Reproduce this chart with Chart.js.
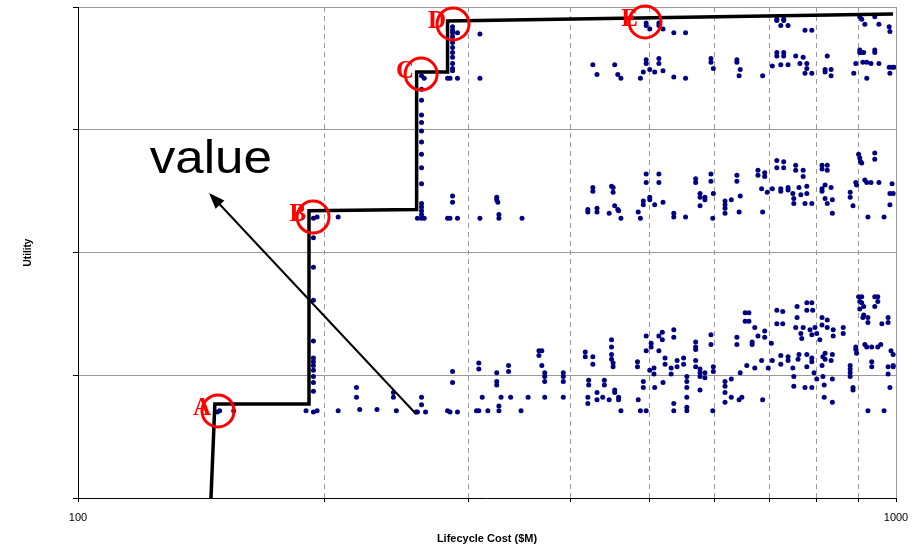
<!DOCTYPE html>
<html>
<head>
<meta charset="utf-8">
<script src="https://cdn.jsdelivr.net/npm/chart.js@4.4.0/dist/chart.umd.min.js"></script>
<style>
  html, body { margin: 0; padding: 0; background: #fff; }
</style>
</head>
<body>
<canvas id="tradeChart" width="920" height="547"></canvas>
<script>
// axis ticks
const xGridValues = [100, 200, 300, 400, 500, 600, 700, 800, 900, 1000];
const xTickLabels = ['100', '', '', '', '', '', '', '', '', '1000'];
const yGridValues = [0, 1, 2, 3, 4];

// pareto front (step line)
const frontierCost = [145.4, 147.0, 191.6, 191.6, 259.4, 259.4, 283.0, 283.0, 991.6];
const frontierUtility = [0, 0.766, 0.766, 2.34, 2.35, 3.47, 3.47, 3.886, 3.943];

// design points, lowest band
const lowCost = [148, 149, 155, 190, 194, 196, 194, 194, 194, 194, 194, 194, 194, 194, 194, 208, 219, 219, 221, 232,
  243, 243, 245, 259, 260, 263, 263, 266, 283, 285, 291, 287, 287, 307, 309, 317, 309, 309, 312, 325,
  325, 325, 327, 327, 329, 336, 336, 338, 348, 355, 366, 369, 366, 369, 372, 372, 372, 372, 392, 392,
  392, 392, 417, 417, 421, 421, 420, 420, 426, 426, 431, 431, 438, 440, 440, 446, 449, 449, 449, 449,
  451, 451, 453, 453, 458, 458, 461, 483, 483, 484, 487, 491, 491, 495, 495, 495, 500, 502, 502, 506,
  506, 507, 513, 513, 518, 518, 519, 522, 522, 531, 531, 535, 535, 535, 535, 540, 540, 550, 550, 555,
  555, 555, 555, 555, 555, 569, 569, 569, 569, 569, 576, 576, 576, 576, 584, 584, 594, 594, 597, 598,
  598, 618, 618, 618, 618, 629, 629, 639, 639, 643, 645, 648, 654, 661, 654, 661, 657, 667, 667, 672,
  672, 678, 687, 685, 691, 691, 698, 704, 706, 715, 715, 723, 723, 727, 727, 738, 738, 748, 750, 750,
  757, 757, 754, 759, 761, 765, 767, 770, 774, 778, 778, 778, 778, 785, 789, 789, 789, 789, 791, 789,
  794, 796, 800, 800, 807, 812, 812, 812, 814, 814, 817, 817, 819, 819, 824, 824, 833, 836, 836, 836,
  838, 838, 862, 862, 879, 879, 879, 879, 886, 886, 893, 893, 895, 900, 908, 903, 903, 908, 911, 913,
  913, 916, 921, 924, 924, 924, 934, 934, 934, 942, 950, 950, 942, 950, 958, 961, 967, 978, 978, 978,
  978, 983, 986, 992, 992, 992];
const lowUtility = [0.70, 0.71, 0.71, 0.71, 0.70, 0.71, 1.61, 1.28, 1.14, 1.11, 1.08, 1.04, 0.99, 0.94, 0.87, 0.71, 0.90, 0.82, 0.72, 0.72,
  0.86, 0.82, 0.71, 0.70, 0.70, 0.82, 0.76, 0.70, 0.71, 0.70, 0.70, 1.03, 0.94, 0.71, 0.71, 0.71, 1.10, 1.05, 0.82, 1.02,
  0.95, 0.92, 0.75, 0.71, 0.82, 1.08, 1.03, 0.82, 0.71, 0.82, 1.20, 1.20, 1.16, 1.08, 1.02, 0.99, 0.95, 0.82, 1.02, 0.99,
  0.95, 0.82, 1.19, 1.15, 0.96, 0.92, 0.82, 0.77, 1.15, 1.09, 0.86, 0.80, 0.82, 0.96, 0.92, 0.80, 1.29, 1.23, 1.17, 1.13,
  1.10, 1.07, 0.88, 0.86, 0.82, 0.80, 0.71, 1.11, 1.07, 0.80, 0.71, 0.95, 0.90, 1.32, 1.20, 0.71, 1.04, 1.23, 1.26, 1.06,
  1.01, 0.90, 1.32, 1.20, 1.35, 1.29, 0.94, 1.14, 1.09, 1.06, 1.01, 1.37, 1.31, 0.77, 0.71, 1.12, 1.07, 1.14, 1.09, 0.99,
  0.95, 0.90, 0.82, 0.74, 0.71, 1.27, 1.23, 1.21, 1.12, 1.07, 1.05, 1.02, 0.99, 0.88, 1.02, 0.98, 1.33, 1.25, 0.71, 1.07,
  1.03, 0.95, 0.91, 0.86, 0.78, 0.82, 0.97, 1.31, 1.25, 0.80, 1.02, 0.82, 1.51, 1.51, 1.44, 1.44, 1.08, 1.27, 1.25, 1.39,
  1.06, 1.32, 0.80, 1.12, 1.36, 1.31, 1.06, 1.26, 1.12, 1.53, 1.42, 1.16, 1.09, 1.52, 1.42, 1.15, 1.12, 1.06, 0.99, 0.91,
  1.47, 1.56, 1.39, 1.13, 1.17, 1.34, 1.30, 1.39, 0.90, 1.17, 1.07, 1.53, 1.59, 1.37, 1.14, 1.11, 0.90, 1.59, 1.53, 1.33,
  1.02, 1.39, 1.34, 0.97, 1.29, 1.47, 1.41, 1.08, 1.15, 0.99, 0.82, 0.92, 1.13, 1.18, 1.45, 1.39, 1.12, 1.17, 0.97, 0.78,
  1.37, 1.32, 1.39, 1.34, 1.08, 1.05, 1.02, 0.99, 0.90, 0.88, 1.23, 1.21, 1.18, 1.64, 1.64, 1.60, 1.54, 1.59, 1.47, 1.56,
  1.49, 1.25, 1.23, 1.47, 1.43, 0.71, 1.23, 1.11, 1.07, 1.64, 1.64, 1.60, 1.56, 1.23, 1.25, 1.42, 0.71, 1.47, 1.43, 1.07,
  1.01, 0.90, 1.20, 1.17, 1.07, 1.08];

// design points, second band (plus the column under C)
const midCost = [194, 196, 208, 194, 194, 263, 263, 263, 263, 263, 263, 263, 263, 263, 263, 263, 263, 263, 263, 260,
  265, 287, 287, 283, 285, 291, 310, 325, 325, 326, 327, 327, 349, 420, 420, 426, 426, 431, 431, 446,
  449, 451, 451, 453, 457, 458, 461, 484, 487, 491, 491, 495, 495, 500, 500, 507, 513, 513, 519, 535,
  535, 553, 569, 569, 576, 576, 576, 584, 584, 594, 594, 598, 597, 618, 618, 618, 618, 629, 639, 639,
  645, 643, 678, 678, 685, 691, 691, 687, 696, 706, 715, 715, 723, 723, 729, 729, 738, 738, 748, 750,
  750, 754, 754, 761, 765, 770, 770, 778, 778, 774, 789, 812, 812, 812, 812, 824, 824, 819, 819, 824,
  833, 836, 836, 879, 879, 886, 893, 895, 900, 903, 905, 908, 916, 921, 932, 942, 942, 924, 953, 967,
  983, 989, 992, 983];
const midUtility = [2.28, 2.29, 2.29, 2.12, 1.88, 2.40, 2.37, 2.34, 2.31, 2.28, 2.56, 2.69, 2.80, 2.90, 2.99, 3.06, 3.12, 3.24, 3.33, 2.28,
  2.28, 2.46, 2.41, 2.28, 2.28, 2.28, 2.28, 2.45, 2.43, 2.41, 2.31, 2.28, 2.28, 2.33, 2.35, 2.53, 2.50, 2.36, 2.33, 2.32,
  2.54, 2.53, 2.49, 2.38, 2.35, 2.34, 2.28, 2.33, 2.28, 2.42, 2.39, 2.64, 2.57, 2.45, 2.43, 2.39, 2.64, 2.57, 2.41, 2.32,
  2.29, 2.29, 2.60, 2.57, 2.48, 2.45, 2.38, 2.45, 2.43, 2.64, 2.58, 2.48, 2.28, 2.42, 2.39, 2.36, 2.32, 2.43, 2.63, 2.58,
  2.46, 2.33, 2.67, 2.63, 2.52, 2.65, 2.62, 2.33, 2.49, 2.52, 2.75, 2.69, 2.52, 2.50, 2.74, 2.69, 2.53, 2.51, 2.48, 2.44,
  2.40, 2.71, 2.67, 2.53, 2.47, 2.67, 2.62, 2.54, 2.48, 2.40, 2.40, 2.71, 2.68, 2.52, 2.50, 2.71, 2.67, 2.55, 2.44, 2.40,
  2.53, 2.43, 2.32, 2.49, 2.45, 2.38, 2.57, 2.55, 2.80, 2.77, 2.74, 2.73, 2.59, 2.57, 2.57, 2.81, 2.76, 2.29, 2.57, 2.29,
  2.48, 2.56, 2.48, 2.39];

// design points, third band (plus the column under D)
const highCost = [287, 287, 287, 287, 287, 287, 287, 287, 287, 287, 287, 263, 265, 283, 285, 291, 310, 426, 431, 453,
  457, 461, 487, 491, 495, 495, 500, 507, 513, 513, 519, 535, 553, 594, 594, 598, 639, 639, 645, 643,
  687, 706, 715, 715, 723, 729, 729, 738, 754, 763, 770, 774, 778, 778, 789, 824, 819, 819, 833, 833,
  888, 893, 903, 903, 908, 913, 911, 921, 932, 921, 942, 942, 953, 981, 989, 994, 983];
const highUtility = [3.84, 3.81, 3.79, 3.76, 3.71, 3.67, 3.63, 3.59, 3.54, 3.50, 3.48, 3.44, 3.42, 3.42, 3.42, 3.42, 3.42, 3.53, 3.45, 3.53,
  3.45, 3.42, 3.42, 3.47, 3.57, 3.54, 3.49, 3.47, 3.58, 3.54, 3.48, 3.43, 3.42, 3.58, 3.55, 3.50, 3.57, 3.55, 3.49, 3.44,
  3.44, 3.52, 3.63, 3.60, 3.53, 3.63, 3.60, 3.53, 3.60, 3.54, 3.59, 3.46, 3.54, 3.50, 3.46, 3.60, 3.49, 3.47, 3.49, 3.44,
  3.46, 3.54, 3.65, 3.63, 3.63, 3.63, 3.55, 3.55, 3.54, 3.42, 3.65, 3.63, 3.54, 3.51, 3.51, 3.51, 3.46];

// design points, top band
const topCost = [291, 310, 495, 495, 500, 513, 513, 519, 535, 553, 715, 715, 729, 729, 723, 738, 774, 789, 903, 908,
  916, 942, 953, 981, 983];
const topUtility = [3.79, 3.78, 3.87, 3.85, 3.82, 3.87, 3.85, 3.82, 3.79, 3.79, 3.90, 3.89, 3.90, 3.89, 3.85, 3.85, 3.81, 3.81, 3.92, 3.90,
  3.86, 3.92, 3.86, 3.84, 3.80];

// circled designs
const markNames = ['A', 'B', 'C', 'D', 'E'];
const markCost = [148.3, 193.8, 262.7, 287.4, 493.4];
const markUtility = [0.709, 2.289, 3.454, 3.862, 3.878];

// "value" arrow annotation
const arrowCost = [259, 144.6];
const arrowUtility = [0.684, 2.485];
const noteText = 'value';
const noteCost = 122.4;
const noteUtility = 2.648;

const toPoints = (xs, ys) => xs.map((v, i) => ({x: v, y: ys[i]}));

const designPoints = [].concat(
  toPoints(lowCost, lowUtility),
  toPoints(midCost, midUtility),
  toPoints(highCost, highUtility),
  toPoints(topCost, topUtility)
);

const sans = '"Liberation Sans", Arial, sans-serif';

const overlay = {
  id: 'overlay',
  beforeDatasetsDraw(chart) {
    const {ctx, chartArea} = chart;
    // plot frame on the right is solid, not dashed
    ctx.save();
    ctx.strokeStyle = '#999999';
    ctx.lineWidth = 1;
    ctx.beginPath();
    ctx.moveTo(Math.round(chartArea.right) + 0.5, chartArea.top);
    ctx.lineTo(Math.round(chartArea.right) + 0.5, chartArea.bottom);
    ctx.stroke();
    ctx.restore();
  },
  afterDatasetsDraw(chart) {
    const {ctx, scales: {x, y}} = chart;
    ctx.save();

    // arrow
    const x1 = x.getPixelForValue(arrowCost[0]), y1 = y.getPixelForValue(arrowUtility[0]);
    const x2 = x.getPixelForValue(arrowCost[1]), y2 = y.getPixelForValue(arrowUtility[1]);
    const ang = Math.atan2(y2 - y1, x2 - x1);
    const c = Math.cos(ang), s = Math.sin(ang);
    ctx.strokeStyle = '#000';
    ctx.fillStyle = '#000';
    ctx.lineWidth = 2;
    ctx.beginPath();
    ctx.moveTo(x1, y1);
    ctx.lineTo(x2 - 10 * c, y2 - 10 * s);
    ctx.stroke();
    ctx.beginPath();
    ctx.moveTo(x2, y2);
    ctx.lineTo(x2 - 16 * c + 6 * s, y2 - 16 * s - 6 * c);
    ctx.lineTo(x2 - 16 * c - 6 * s, y2 - 16 * s + 6 * c);
    ctx.closePath();
    ctx.fill();

    // big note, a little wider than the plain font
    ctx.save();
    ctx.translate(x.getPixelForValue(noteCost), y.getPixelForValue(noteUtility));
    ctx.scale(1.11, 1);
    ctx.font = '46px ' + sans;
    ctx.textAlign = 'left';
    ctx.textBaseline = 'alphabetic';
    ctx.fillText(noteText, 0, 0);
    ctx.restore();

    // letters beside the circles
    ctx.font = 'bold 25px "Liberation Serif", "Times New Roman", serif';
    ctx.fillStyle = '#ff0000';
    ctx.textAlign = 'right';
    markNames.forEach((name, i) => {
      const px = x.getPixelForValue(markCost[i]);
      const py = y.getPixelForValue(markUtility[i]);
      ctx.fillText(name, px - 7, py + 4);
    });
    ctx.restore();
  }
};

new Chart(document.getElementById('tradeChart'), {
  type: 'scatter',
  data: {
    datasets: [
      {
        data: toPoints(markCost, markUtility),
        pointStyle: 'circle',
        pointRadius: 16,
        borderColor: '#ff0000',
        backgroundColor: 'rgba(0,0,0,0)',
        borderWidth: 3,
        clip: false,
        order: 0
      },
      {
        type: 'line',
        data: toPoints(frontierCost, frontierUtility),
        borderColor: '#000',
        borderWidth: 3.5,
        borderJoinStyle: 'miter',
        pointRadius: 0,
        fill: false,
        tension: 0,
        order: 1
      },
      {
        data: designPoints,
        pointStyle: 'circle',
        pointRadius: 2.5,
        borderWidth: 0,
        backgroundColor: '#000080',
        borderColor: '#000080',
        order: 2
      }
    ]
  },
  options: {
    responsive: false,
    animation: false,
    events: [],
    layout: { autoPadding: false, padding: { top: 7, right: 24, left: 0, bottom: 0 } },
    plugins: {
      legend: { display: false },
      tooltip: { enabled: false }
    },
    scales: {
      x: {
        type: 'logarithmic',
        min: 100,
        max: 1000,
        afterBuildTicks: scale => { scale.ticks = xGridValues.map(v => ({ value: v })); },
        afterFit: scale => { scale.height = 49; },
        ticks: {
          autoSkip: false,
          maxRotation: 0,
          padding: 9,
          color: '#000',
          font: { family: sans, size: 11 },
          callback: (value, index) => xTickLabels[index]
        },
        grid: { color: '#999999', lineWidth: 1, tickColor: '#000', tickLength: 4 },
        border: { color: '#000', width: 1, dash: [5, 4] },
        title: {
          display: true,
          text: 'Lifecycle Cost ($M)',
          color: '#000',
          font: { family: sans, size: 11, weight: 'bold' },
          padding: { top: 0, bottom: 1.5 }
        }
      },
      y: {
        min: 0,
        max: 4,
        afterBuildTicks: scale => { scale.ticks = yGridValues.map(v => ({ value: v })); },
        afterFit: scale => { scale.width = 78; },
        ticks: { display: false },
        grid: { color: '#999999', lineWidth: 1, tickColor: '#000', tickLength: 5 },
        border: { color: '#000', width: 1 },
        title: {
          display: true,
          text: 'Utility',
          color: '#000',
          font: { family: sans, size: 10, weight: 'bold' },
          padding: { top: 22, bottom: 0 }
        }
      }
    }
  },
  plugins: [overlay]
});
</script>
</body>
</html>
